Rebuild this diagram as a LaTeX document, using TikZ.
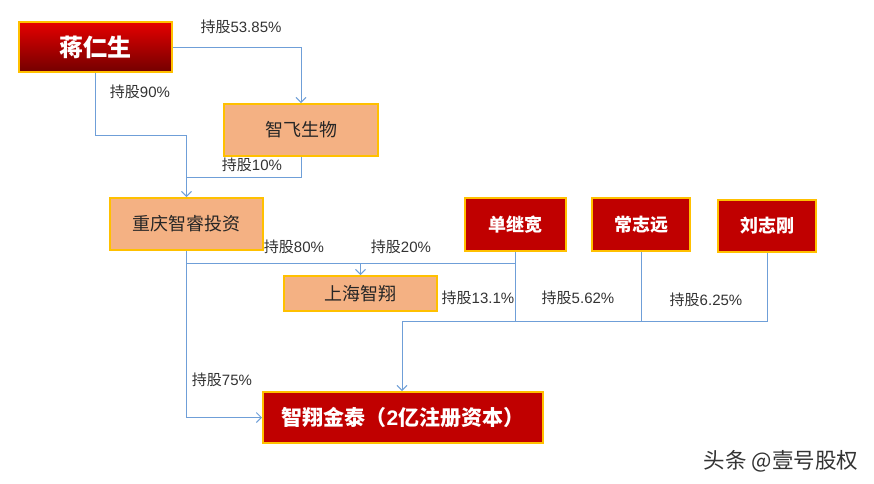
\documentclass[tikz,border=0pt]{standalone}
\usepackage{fontspec}
\setmainfont{Noto Sans CJK SC}
\newfontfamily\latin{Liberation Sans}
\usetikzlibrary{arrows.meta}
\definecolor{bord}{HTML}{FFC000}
\definecolor{darkred}{HTML}{C00000}
\definecolor{peach}{HTML}{F4B183}
\definecolor{lineblue}{HTML}{6F9FD8}
\tikzset{
  redbox/.style={draw=bord, line width=2pt, fill=darkred, text=white, font=\bfseries\fontsize{18}{20}\selectfont, inner sep=0pt},
  peachbox/.style={draw=bord, line width=2pt, fill=peach, text=black!85, font=\fontsize{18}{20}\selectfont, inner sep=0pt},
  conn/.style={draw=lineblue, line width=0.9pt},
  arr/.style={conn, -{Straight Barb[length=5pt,width=10pt]}},
  lbl/.style={font=\fontsize{15}{17}\selectfont, text=black!80, inner sep=0pt}
}
\begin{document}
\begin{tikzpicture}[x=1pt,y=-1pt]
\useasboundingbox (0,0) rectangle (874,483);
\fill[white] (0,0) rectangle (874,483);
% nodes
\node[redbox, top color=red!90!black, bottom color=red!45!black, minimum width=153pt, minimum height=50pt, font=\bfseries\fontsize{24}{26}\selectfont] (jrs) at (95.5,47) {蒋仁生};
\node[peachbox, minimum width=154pt, minimum height=52pt] (zf) at (301,130) {智飞生物};
\node[peachbox, minimum width=153pt, minimum height=52pt] (cq) at (186.5,224) {重庆智睿投资};
\node[peachbox, minimum width=153pt, minimum height=35pt] (sh) at (360.5,293.5) {上海智翔};
\node[redbox, minimum width=101pt, minimum height=53pt] (djk) at (515,224.5) {单继宽};
\node[redbox, minimum width=98pt, minimum height=53pt] (czy) at (641,224.5) {常志远};
\node[redbox, minimum width=98pt, minimum height=52pt] (lzg) at (767,226) {刘志刚};
\node[redbox, minimum width=280pt, minimum height=51pt, font=\bfseries\fontsize{21}{23}\selectfont] (zx) at (403,417.5) {智翔金泰（{\latin 2}亿注册资本）};
% coordinates
\coordinate (b1) at (186.5,135);
\coordinate (b2) at (186.5,177);
\coordinate (h1) at (186.5,263);
\coordinate (h2) at (402,321);
% connectors
\draw[arr] (jrs.east) -| (zf.north);
\draw[arr] (jrs.south) |- (b1) -- (cq.north);
\draw[conn] (zf.south) |- (b2);
\draw[arr] (cq.south) |- (zx.west);
\draw[conn] (h1) -- (h1 -| djk.south);
\draw[arr] (sh.north |- h1) -- (sh.north);
\draw[conn] (djk.south) -- (djk.south |- h2);
\draw[conn] (czy.south) -- (czy.south |- h2);
\draw[conn] (lzg.south) |- (h2);
\draw[arr] (h2) -- (h2 |- zx.north);
% labels
\node[lbl] (l1) at (241,27) {持股{\latin 53.85\%}};
\node[lbl] (l2) at (140,92) {持股{\latin 90\%}};
\node[lbl] (l3) at (252,165) {持股{\latin 10\%}};
\node[lbl] (l4) at (294,247) {持股{\latin 80\%}};
\node[lbl] (l5) at (401,247) {持股{\latin 20\%}};
\node[lbl] (l6) at (478,298) {持股{\latin 13.1\%}};
\node[lbl] (l7) at (578,298) {持股{\latin 5.62\%}};
\node[lbl] (l8) at (706,300) {持股{\latin 6.25\%}};
\node[lbl] (l9) at (222,380) {持股{\latin 75\%}};
\node[font=\fontsize{21.5}{23}\selectfont, text=black!80, inner sep=0pt] (wm) at (781,461) {头条 @壹号股权};
\end{tikzpicture}
\end{document}
